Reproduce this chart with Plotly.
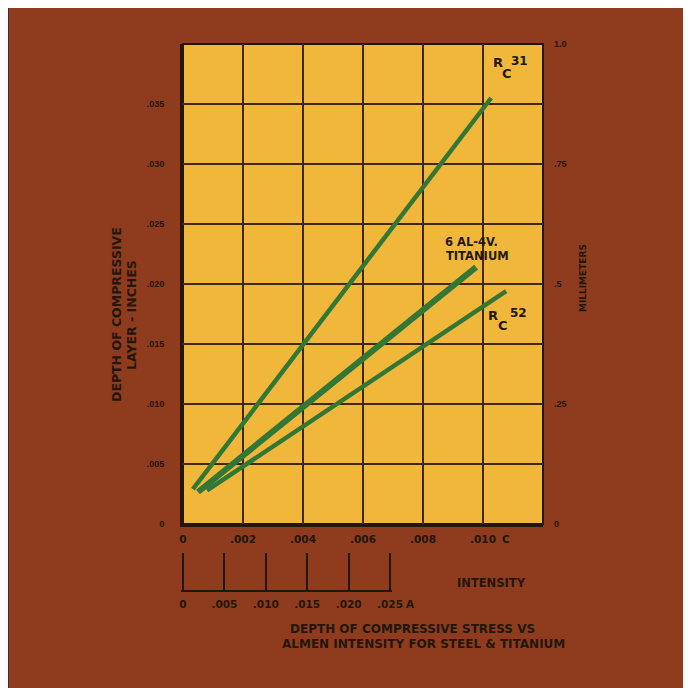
import plotly.graph_objects as go

# ---------------- data ----------------
c_ticks = [0, 0.002, 0.004, 0.006, 0.008, 0.010]
c_labels = ["0", ".002", ".004", ".006", ".008", ".010"]
depth_ticks = [0, 0.005, 0.010, 0.015, 0.020, 0.025, 0.030, 0.035]
depth_labels = ["0", ".005", ".010", ".015", ".020", ".025", ".030", ".035"]
mm_ticks = [0, 0.25, 0.5, 0.75, 1.0]
mm_labels = ["0", ".25", ".5", ".75", "1.0"]
almen_ticks = [0, 0.005, 0.010, 0.015, 0.020, 0.025]
almen_labels = ["0", ".005", ".010", ".015", ".020", ".025"]

rc31_x = [0.00033, 0.01027]
rc31_y = [0.0029, 0.0355]
ti_x = [0.0005, 0.00977]
ti_y = [0.00267, 0.0214]
rc52_x = [0.0008, 0.01077]
rc52_y = [0.0028, 0.0194]

# ---------------- styling ----------------
OFF = 8                      # page body margin
W, H = 691 - OFF, 688 - OFF  # figure size
PLOT_L, PLOT_R, PLOT_T, PLOT_B = 183, 543, 44, 524   # page pixels of plot area
PAPER_L = 175                                       # page pixel of paper left
PAPER_B = 590                                       # page pixel of paper bottom
L = PAPER_L - OFF
R = W - (PLOT_R - OFF)
T = PLOT_T - OFF
B = H - (PAPER_B - OFF)
PW, PH = W - L - R, H - T - B


def px(x):
    return (x - PAPER_L) / PW


def py(y):
    return (PAPER_B - y) / PH


X0 = px(PLOT_L)
Y0 = py(PLOT_B)
DARK = "#23170d"
GRID = "#3e2a10"
BROWN = "#8e3c1d"
YELLOW = "#f0b73b"
GREEN = "#327736"
WHITE = "#f3f1ea"
DV = "DejaVu Sans"
LS = "Liberation Sans"

A_PAD = 0.0002
a_px_per_unit = (390 - 183) / 0.025

fig = go.Figure()
fig.add_trace(go.Scatter(x=rc31_x, y=rc31_y, mode="lines",
                         line=dict(color=GREEN, width=4.5), hoverinfo="skip", showlegend=False))
fig.add_trace(go.Scatter(x=ti_x, y=ti_y, mode="lines",
                         line=dict(color=GREEN, width=6), hoverinfo="skip", showlegend=False))
fig.add_trace(go.Scatter(x=rc52_x, y=rc52_y, mode="lines",
                         line=dict(color=GREEN, width=4.5), hoverinfo="skip", showlegend=False))
# anchor traces for secondary axes
fig.add_trace(go.Scatter(x=[c_ticks[0]], y=[mm_ticks[0]], yaxis="y2", mode="markers",
                         marker=dict(opacity=0), hoverinfo="skip", showlegend=False))
fig.add_trace(go.Scatter(x=almen_ticks, y=[0] * len(almen_ticks), xaxis="x2", yaxis="y3",
                         mode="markers", marker=dict(opacity=0), hoverinfo="skip", showlegend=False))

fig.update_layout(
    width=W, height=H, autosize=False,
    margin=dict(l=L, r=R, t=T, b=B, pad=0),
    paper_bgcolor=WHITE, plot_bgcolor="rgba(0,0,0,0)",
    xaxis=dict(domain=[X0, 1], range=[0, 0.012], anchor="y",
               tickmode="array", tickvals=c_ticks, ticktext=c_labels,
               showgrid=True, gridcolor=GRID, gridwidth=2,
               showline=True, linecolor=DARK, linewidth=3,
               ticks="", zeroline=False, ticklabelstandoff=3,
               tickfont=dict(family=DV, size=10.5, color=DARK, weight="bold")),
    yaxis=dict(domain=[Y0, 1], range=[0, 0.04], anchor="x",
               tickmode="array", tickvals=depth_ticks, ticktext=depth_labels,
               showgrid=True, gridcolor=GRID, gridwidth=2,
               showline=True, linecolor=DARK, linewidth=3,
               ticks="", zeroline=False, ticklabelstandoff=14,
               tickfont=dict(family=LS, size=9, color=DARK, weight="bold")),
    yaxis2=dict(overlaying="y", side="right", anchor="x", range=[0, 1.0],
                tickmode="array", tickvals=mm_ticks, ticktext=mm_labels,
                showgrid=False, showline=False, zeroline=False, ticks="",
                ticklabelstandoff=10,
                tickfont=dict(family=LS, size=9, color=DARK, weight="bold")),
    xaxis2=dict(domain=[px(183 - A_PAD * a_px_per_unit), px(390 + A_PAD * a_px_per_unit)],
                anchor="y3", range=[-A_PAD, 0.025 + A_PAD],
                tickmode="array", tickvals=almen_ticks, ticktext=almen_labels,
                ticks="inside", ticklen=37, tickwidth=2, tickcolor=DARK,
                showline=True, linecolor=DARK, linewidth=2,
                showgrid=False, zeroline=False, ticklabelstandoff=3,
                tickfont=dict(family=DV, size=10.5, color=DARK, weight="bold")),
    yaxis3=dict(domain=[0, py(553)], anchor="x2", range=[0, 1], visible=False),
    shapes=[
        dict(type="rect", xref="paper", yref="paper",
             x0=px(8), x1=px(684), y0=py(700), y1=py(7),
             fillcolor=BROWN, line=dict(color="#3d2414", width=1.5), layer="below"),
        dict(type="rect", xref="paper", yref="paper",
             x0=X0, x1=1, y0=Y0, y1=1,
             fillcolor=YELLOW, line=dict(color=DARK, width=2), layer="below"),
    ],
)


def ann(text, x, y, size, angle=0, xanchor="center", family=DV):
    fig.add_annotation(text=text, x=px(x), y=py(y), xref="paper", yref="paper",
                       showarrow=False, textangle=angle, xanchor=xanchor, yanchor="middle",
                       font=dict(family=family, size=size, color=DARK, weight="bold"))


# axis titles
ann("DEPTH OF COMPRESSIVE", 116, 315, 12.5, angle=-90)
ann("LAYER - INCHES", 131, 315, 12.5, angle=-90)
ann("MILLIMETERS", 583, 278, 9, angle=-90)
ann("C", 506, 539, 10.5)
ann("A", 410, 604, 10.5)
ann("INTENSITY", 491, 583, 11.5)
ann("DEPTH OF COMPRESSIVE STRESS VS", 412, 629, 12)
ann("ALMEN INTENSITY FOR STEEL &amp; TITANIUM", 423, 644, 12)

# series labels
ann("R", 498, 63, 13)
ann("C", 507, 73, 13)
ann("31", 519, 61, 12)
ann("6 AL-4V.", 443, 242, 11.5, xanchor="left")
ann("TITANIUM", 444, 256, 11.5, xanchor="left")
ann("R", 493, 315, 13)
ann("C", 503, 325, 13)
ann("52", 518, 313, 12)

fig.write_html("out.html")
